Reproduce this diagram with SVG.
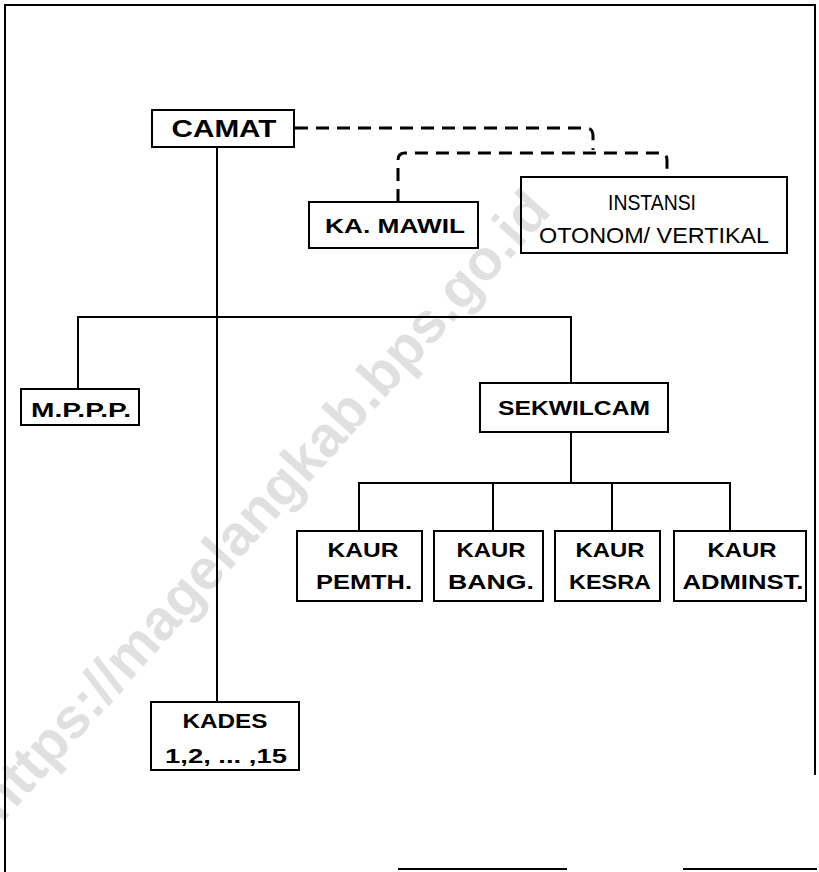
<svg xmlns="http://www.w3.org/2000/svg" width="819" height="872" viewBox="0 0 819 872">
<style>
  .box { fill: #ffffff; stroke: #000000; stroke-width: 2; }
  .ln { fill: none; stroke: #000000; stroke-width: 2; }
  .dash { fill: none; stroke: #000000; stroke-width: 3; stroke-dasharray: 13 8; }
  .t { font-family: "Liberation Sans", Arial, sans-serif; font-weight: bold; fill: #000000; text-anchor: middle; }
  .r { font-family: "Liberation Sans", Arial, sans-serif; font-weight: normal; fill: #000000; text-anchor: middle; }
  .wm { font-family: "Liberation Sans", Arial, sans-serif; font-weight: bold; fill: #000000; fill-opacity: 0.12; text-anchor: middle; }
</style>
<rect x="0" y="0" width="819" height="872" fill="#ffffff"/>
<g id="frame" class="ln">
  <path d="M5 872 V5 H815 V775"/>
  <path d="M398 869 H567 M683 869 H817"/>
</g>
<g id="connectors">
  <path class="ln" d="M217 147 V702"/>
  <path class="ln" d="M78 389 V317 H571 V383"/>
  <path class="ln" d="M571 432 V483"/>
  <path class="ln" d="M359 531 V483 H730 V531 M493 483 V531 M612 483 V531"/>
  <path class="dash" d="M295 128 H586 Q593 128 593 136 V150"/>
  <path class="dash" d="M398 202 V160 Q398 153 405 153 H660 Q667 153 667 160 V177"/>
</g>
<g id="camat">
  <rect class="box" x="152" y="110" width="142" height="37"/>
  <text class="t" x="224" y="137" font-size="23" textLength="105" lengthAdjust="spacingAndGlyphs">CAMAT</text>
</g>
<g id="kamawil">
  <rect class="box" x="309" y="202" width="169" height="46"/>
  <text class="t" x="395" y="233" font-size="21" textLength="140" lengthAdjust="spacingAndGlyphs">KA. MAWIL</text>
</g>
<g id="instansi">
  <rect class="box" x="521" y="177" width="266" height="76"/>
  <text class="r" x="652" y="210" font-size="22" textLength="88" lengthAdjust="spacingAndGlyphs">INSTANSI</text>
  <text class="r" x="654" y="243" font-size="22" textLength="230" lengthAdjust="spacingAndGlyphs">OTONOM/ VERTIKAL</text>
</g>
<g id="mppp">
  <rect class="box" x="21" y="389" width="118" height="36"/>
  <text class="t" x="81" y="417" font-size="21" textLength="100" lengthAdjust="spacingAndGlyphs">M.P.P.P.</text>
</g>
<g id="sekwilcam">
  <rect class="box" x="480" y="383" width="188" height="49"/>
  <text class="t" x="574" y="415" font-size="21" textLength="152" lengthAdjust="spacingAndGlyphs">SEKWILCAM</text>
</g>
<g id="kaur-pemth">
  <rect class="box" x="297" y="531" width="125" height="70"/>
  <text class="t" x="363" y="557" font-size="21" textLength="71" lengthAdjust="spacingAndGlyphs">KAUR</text>
  <text class="t" x="364" y="589" font-size="21" textLength="96" lengthAdjust="spacingAndGlyphs">PEMTH.</text>
</g>
<g id="kaur-bang">
  <rect class="box" x="434" y="531" width="109" height="70"/>
  <text class="t" x="491" y="557" font-size="21" textLength="69" lengthAdjust="spacingAndGlyphs">KAUR</text>
  <text class="t" x="491" y="589" font-size="21" textLength="86" lengthAdjust="spacingAndGlyphs">BANG.</text>
</g>
<g id="kaur-kesra">
  <rect class="box" x="555" y="531" width="105" height="70"/>
  <text class="t" x="610" y="557" font-size="21" textLength="69" lengthAdjust="spacingAndGlyphs">KAUR</text>
  <text class="t" x="610" y="589" font-size="21" textLength="82" lengthAdjust="spacingAndGlyphs">KESRA</text>
</g>
<g id="kaur-adminst">
  <rect class="box" x="674" y="531" width="132" height="70"/>
  <text class="t" x="742" y="557" font-size="21" textLength="69" lengthAdjust="spacingAndGlyphs">KAUR</text>
  <text class="t" x="743" y="589" font-size="21" textLength="121" lengthAdjust="spacingAndGlyphs">ADMINST.</text>
</g>
<g id="kades">
  <rect class="box" x="151" y="702" width="148" height="68"/>
  <text class="t" x="225" y="728" font-size="21" textLength="85" lengthAdjust="spacingAndGlyphs">KADES</text>
  <text class="t" x="226" y="763" font-size="21" textLength="122" lengthAdjust="spacingAndGlyphs">1,2, ... ,15</text>
</g>
<text class="wm" x="277" y="518" font-size="57" transform="rotate(-48 277 518)">https://magelangkab.bps.go.id</text>
</svg>
